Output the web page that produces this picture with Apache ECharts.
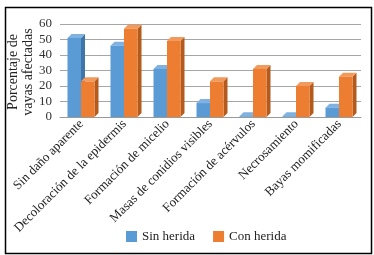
<!DOCTYPE html>
<html>
<head>
<meta charset="utf-8">
<script src="https://cdn.jsdelivr.net/npm/echarts@6/dist/echarts.min.js"></script>
<style>
  html, body { margin: 0; padding: 0; background: #fff; }
  #chart { width: 374px; height: 255px; }
</style>
</head>
<body>
<div id="chart"></div>
<script>
const categories = [
  'Sin daño aparente',
  'Decoloración de la epidermis',
  'Formación de micelio',
  'Masas de conidios visibles',
  'Formación de acérvulos',
  'Necrosamiento',
  'Bayas momificadas'
]
const sinHerida = [51, 46, 31, 9, 0.5, 0.5, 6]
const conHerida = [23, 57, 49, 23, 31, 20, 26]
const yTicks = [0, 10, 20, 30, 40, 50, 60]

// colores estilo Excel: frente, arriba, lado
const palette = {
  blue: ['#5B9BD5', '#7FB2E0', '#3F75A8'],
  orange: ['#ED7D31', '#F29A5C', '#B45A1C']
}

const serif = "'Liberation Serif', 'Times New Roman', serif"

const chart = echarts.init(document.getElementById('chart'))

// barra con efecto 3D
const makeRender = (offset, width, cols) => (params, api) => {
  const i = api.value(0)
  const v = api.value(1)
  const base = api.coord([i, 0])
  const top = api.coord([i, v])
  const x0 = base[0] + offset
  const x1 = x0 + width
  const y0 = base[1]
  const y1 = top[1]
  const d = 4
  return {
    type: 'group',
    children: [
      {
        type: 'polygon',
        shape: { points: [[x1, y0], [x1 + d, y0 - d], [x1 + d, y1 - d], [x1, y1]] },
        style: { fill: cols[2] }
      },
      {
        type: 'polygon',
        shape: { points: [[x0, y1], [x0 + d, y1 - d], [x1 + d, y1 - d], [x1, y1]] },
        style: { fill: cols[1] }
      },
      {
        type: 'rect',
        shape: { x: x0, y: y1, width: width, height: y0 - y1 },
        style: { fill: cols[0] }
      }
    ]
  }
}

const option = {
  animation: false,
  textStyle: { fontFamily: serif },
  graphic: [
    {
      type: 'rect',
      left: 3, top: 5,
      shape: { width: 366, height: 246 },
      style: { fill: 'none', stroke: '#000', lineWidth: 1.5 }
    },
    {
      // titulo del eje Y
      type: 'text',
      x: 21, y: 72,
      rotation: Math.PI / 2,
      style: {
        text: 'Porcentaje de\nvayas afectadas',
        font: '14px ' + serif,
        lineHeight: 15,
        fill: '#222',
        align: 'center',
        verticalAlign: 'middle'
      }
    }
  ],
  legend: {
    bottom: 7,
    left: 121,
    itemWidth: 11,
    itemHeight: 11,
    itemGap: 18,
    icon: 'rect',
    textStyle: { fontFamily: serif, fontSize: 13, color: '#222' },
    data: ['Sin herida', 'Con herida']
  },
  grid: { left: 60, right: 13, top: 24, bottom: 138, outerBoundsMode: 'none' },
  xAxis: {
    type: 'category',
    data: categories,
    axisTick: { show: false },
    axisLine: { lineStyle: { color: '#999' } },
    axisLabel: {
      rotate: 45,
      interval: 0,
      margin: 5,
      fontFamily: serif,
      fontSize: 13,
      color: '#222'
    }
  },
  yAxis: {
    type: 'value',
    min: yTicks[0],
    max: yTicks[yTicks.length - 1],
    interval: 10,
    axisLine: { show: false },
    axisTick: { show: false },
    axisLabel: { margin: 8, fontFamily: serif, fontSize: 13, color: '#333' },
    splitLine: { lineStyle: { color: '#a6a6a6' } }
  },
  series: [
    {
      name: 'Sin herida',
      type: 'custom',
      itemStyle: { color: palette.blue[0] },
      encode: { x: 0, y: 1 },
      data: sinHerida.map((v, i) => [i, v]),
      renderItem: makeRender(-14, 13.5, palette.blue)
    },
    {
      name: 'Con herida',
      type: 'custom',
      itemStyle: { color: palette.orange[0] },
      encode: { x: 0, y: 1 },
      data: conHerida.map((v, i) => [i, v]),
      renderItem: makeRender(-0.5, 13.5, palette.orange)
    }
  ]
}

chart.setOption(option)
</script>
</body>
</html>
